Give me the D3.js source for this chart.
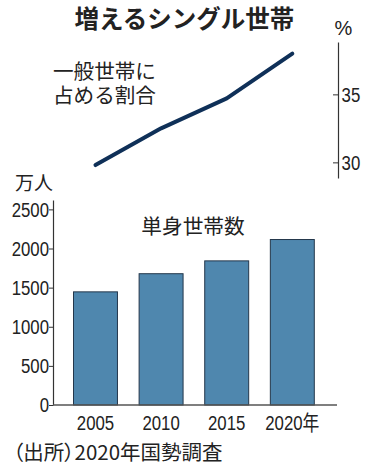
<!DOCTYPE html>
<html>
<head>
<meta charset="utf-8">
<script src="https://cdn.jsdelivr.net/npm/d3@7"></script>
<style>
  body { margin: 0; background: #fff; }
  svg { display: block; }
  .num { font-family: "Liberation Sans", "Noto Sans CJK JP", sans-serif; font-size: 21px; fill: #222; }
  .jp { font-family: "Noto Sans CJK JP", sans-serif; fill: #222; }
</style>
</head>
<body>
<div id="chart"></div>
<script>
// chart data
const years = ["2005", "2010", "2015", "2020"];
const yearLabels = ["2005", "2010", "2015", "2020年"];
const singleHouseholds = [1446, 1678, 1842, 2115];   // 万人
const sharePct = [29.8, 32.5, 34.7, 38.0];            // %
const countTicks = [0, 500, 1000, 1500, 2000, 2500];
const shareTicks = [30, 35];

const width = 371, height = 471;
const narrow = "scale(0.8,1)"; // condensed look for the numbers

let svg = d3.select("#chart")
    .append("svg")
    .attr("width", width)
    .attr("height", height);

// scales
let x = d3.scaleBand()
    .domain(years)
    .range([73.5, 314.3])
    .paddingInner(0.33)
    .paddingOuter(0);

let yBar = d3.scaleLinear()
    .domain([0, 2620])
    .range([405, 200]);

let yShare = d3.scaleLinear()
    .domain([28.85, 38.85])
    .range([178, 42]);

function styleTicks(axisG) {
    axisG.select(".domain").attr("stroke", "#333").attr("stroke-width", 1.2);
    axisG.selectAll(".tick line").attr("stroke", "#333");
    axisG.selectAll(".tick text")
        .attr("class", "num")
        .attr("fill", null)
        .attr("transform", narrow);
}

// title
svg.append("text")
    .attr("class", "jp")
    .attr("x", 184.5)
    .attr("y", 28)
    .attr("text-anchor", "middle")
    .style("font-size", "24.5px")
    .style("font-weight", "bold")
    .text("増えるシングル世帯");

// share line label
let lbl = svg.append("text")
    .attr("class", "jp")
    .style("font-size", "20.6px");
lbl.append("tspan").attr("x", 53).attr("y", 79).text("一般世帯に");
lbl.append("tspan").attr("x", 53).attr("y", 103).text("占める割合");

// right axis for share
let shareAxis = svg.append("g")
    .attr("transform", "translate(338,0)")
    .call(d3.axisRight(yShare)
        .tickValues(shareTicks)
        .tickSizeInner(-5)
        .tickSizeOuter(0)
        .tickPadding(4.5));
styleTicks(shareAxis);

svg.append("text")
    .attr("class", "num")
    .attr("x", 343.5)
    .attr("y", 35)
    .attr("text-anchor", "middle")
    .style("font-size", "20px")
    .text("%");

// share line
svg.append("path")
    .datum(sharePct)
    .attr("fill", "none")
    .attr("stroke", "#0f3058")
    .attr("stroke-width", 4)
    .attr("stroke-linecap", "round")
    .attr("stroke-linejoin", "round")
    .attr("d", d3.line()
        .x(function (d, i) { return x(years[i]) + x.bandwidth() / 2 })
        .y(function (d) { return yShare(d) })
    );

// bars unit
svg.append("text")
    .attr("class", "jp")
    .attr("x", 15)
    .attr("y", 190)
    .style("font-size", "19px")
    .text("万人");

svg.append("text")
    .attr("class", "jp")
    .attr("x", 193)
    .attr("y", 234)
    .attr("text-anchor", "middle")
    .style("font-size", "20.7px")
    .text("単身世帯数");

// bars
svg.append("g")
    .selectAll("rect")
    .data(singleHouseholds)
    .enter()
    .append("rect")
    .attr("x", function (d, i) { return x(years[i]) })
    .attr("y", function (d) { return yBar(d) })
    .attr("width", x.bandwidth())
    .attr("height", function (d) { return yBar(0) - yBar(d) })
    .attr("fill", "#4f87ae")
    .attr("stroke", "#24374b")
    .attr("stroke-width", 1);

// left axis for counts
let countAxis = svg.append("g")
    .attr("transform", "translate(53,0)")
    .call(d3.axisLeft(yBar)
        .tickValues(countTicks)
        .tickFormat(d3.format("d"))
        .tickSizeInner(4)
        .tickSizeOuter(0)
        .tickPadding(1));
styleTicks(countAxis);

// x axis
let xAxis = svg.append("g")
    .attr("transform", "translate(0,405)")
    .call(d3.axisBottom(x)
        .tickSize(0)
        .tickPadding(10)
        .tickFormat(function (d, i) { return yearLabels[i] }));
xAxis.select(".domain").remove();
styleTicks(xAxis);

// baseline
svg.append("line")
    .attr("x1", 53)
    .attr("x2", 337)
    .attr("y1", yBar(0))
    .attr("y2", yBar(0))
    .attr("stroke", "#555")
    .attr("stroke-width", 1.6);

// source
svg.append("text")
    .attr("class", "jp")
    .attr("x", 13)
    .attr("y", 460)
    .style("font-size", "20.5px")
    .style("font-feature-settings", "'palt'")
    .text("（出所）2020年国勢調査");
</script>
</body>
</html>
